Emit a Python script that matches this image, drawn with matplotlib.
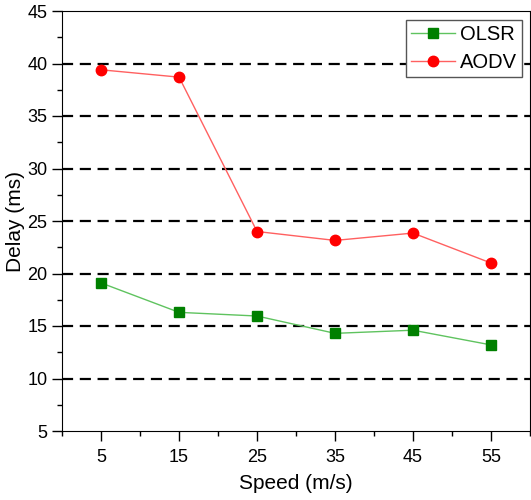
import matplotlib.pyplot as plt
from matplotlib.ticker import MultipleLocator

plt.rcParams['font.family'] = ['Liberation Sans', 'DejaVu Sans']

# Data
speed = [5, 15, 25, 35, 45, 55]
olsr = [19.1, 16.3, 15.95, 14.3, 14.6, 13.2]
aodv = [39.4, 38.7, 24.0, 23.15, 23.85, 21.0]
grid_levels = [10, 15, 20, 25, 30, 35, 40]

fig = plt.figure(figsize=(5.31, 5.0), dpi=100)
ax = fig.add_axes([0.117, 0.138, 0.881, 0.840])

# dashed horizontal grid
for g in grid_levels:
    ax.axhline(g, color='black', linestyle=(0, (5, 3)), linewidth=1.6, zorder=1)

ax.plot(speed, olsr, color='#5fc35f', linewidth=1.0, marker='s', markersize=6.5,
        markerfacecolor='#008000', markeredgecolor='#008000', label='OLSR', zorder=3)
ax.plot(speed, aodv, color='#ff6060', linewidth=1.0, marker='o', markersize=7.5,
        markerfacecolor='#ff0000', markeredgecolor='#ff0000', label='AODV', zorder=3)

ax.set_xlim(0, 60)
ax.set_ylim(5, 45)
ax.set_xticks(speed)
ax.xaxis.set_minor_locator(MultipleLocator(10))
ax.yaxis.set_major_locator(MultipleLocator(5))
ax.yaxis.set_minor_locator(MultipleLocator(2.5))
ax.tick_params(which='major', direction='out', length=7, width=1, labelsize=13)
ax.tick_params(which='minor', direction='out', length=3.5, width=1)
ax.tick_params(axis='x', pad=6)

ax.set_xlabel('Speed (m/s)', fontsize=15, labelpad=6)
ax.set_ylabel('Delay (ms)', fontsize=15, labelpad=2)

leg = ax.legend(loc='upper right', bbox_to_anchor=(0.983, 0.979), borderaxespad=0,
                fontsize=14.5, frameon=True, fancybox=False, framealpha=1,
                edgecolor='#555555', handlelength=2.2, handletextpad=0.25,
                borderpad=0.25, labelspacing=0.45)
leg.get_frame().set_linewidth(1.0)
leg.set_zorder(5)

plt.savefig('out.png', dpi=100)
